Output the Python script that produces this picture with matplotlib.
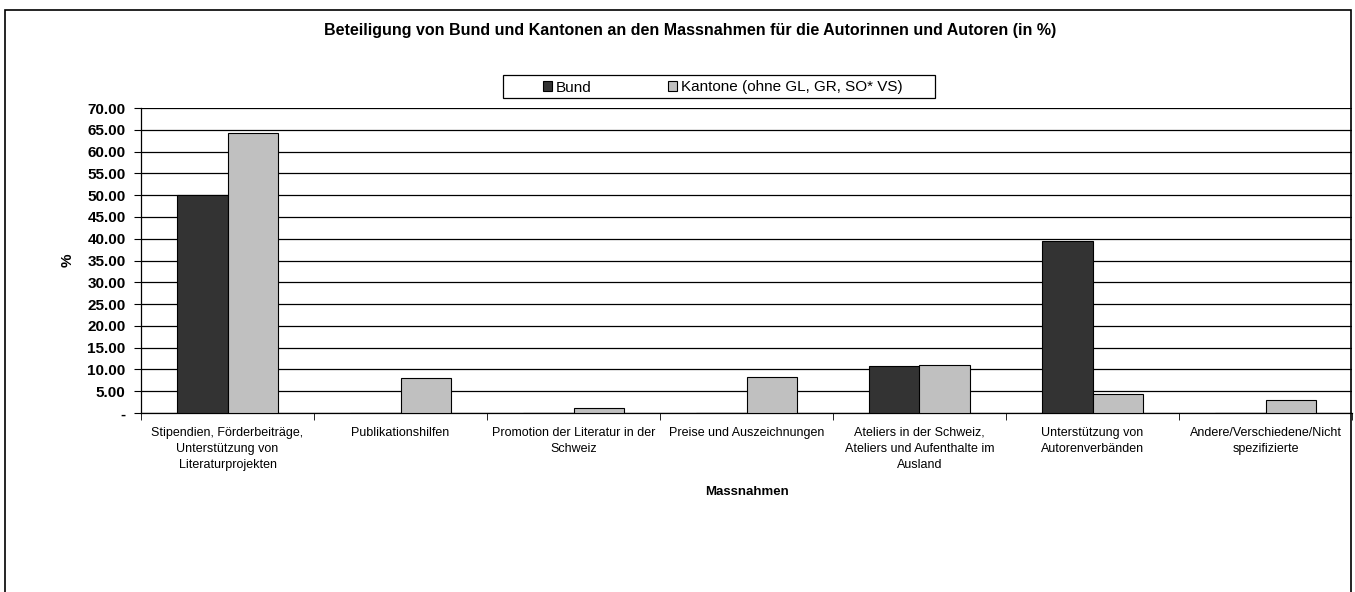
import numpy as np
import matplotlib.pyplot as plt
from matplotlib.patches import Rectangle

plt.rcParams['font.family'] = ['Liberation Sans', 'DejaVu Sans']

categories = ["Stipendien, Förderbeiträge,\nUnterstützung von\nLiteraturprojekten",
              "Publikationshilfen",
              "Promotion der Literatur in der\nSchweiz",
              "Preise und Auszeichnungen",
              "Ateliers in der Schweiz,\nAteliers und Aufenthalte im\nAusland",
              "Unterstützung von\nAutorenverbänden",
              "Andere/Verschiedene/Nicht\nspezifizierte"]
bund = [50.0, 0, 0, 0, 10.7, 39.5, 0]
kantone = [64.2, 8.0, 1.2, 8.3, 11.0, 4.3, 2.9]
yticks = np.arange(0, 75, 5)
ylabels = ['-'] + ['%.2f' % v for v in yticks[1:]]

W, H = 1355, 592
fig = plt.figure(figsize=(W / 100, H / 100), dpi=100)
ax = fig.add_axes([141 / W, 1 - 413 / H, (1352 - 141) / W, (413 - 108) / H])

# outer chart frame
fig.patches.append(Rectangle((5 / W, -0.05), (1351 - 5) / W, 1.05 - 10 / H,
                             transform=fig.transFigure, fill=False,
                             edgecolor='black', linewidth=1.2))

x = np.arange(len(categories))
bw = 0.29
b1 = ax.bar(x - bw / 2, bund, bw, color='#333333', edgecolor='black', linewidth=0.8,
            label='Bund', zorder=3)
b2 = ax.bar(x + bw / 2, kantone, bw, color='#c0c0c0', edgecolor='black', linewidth=0.8,
            label='Kantone (ohne GL, GR, SO* VS)', zorder=3)

ax.set_xlim(-0.5, len(categories) - 0.5)
ax.set_ylim(0, 70)
ax.set_yticks(yticks)
ax.set_yticklabels(ylabels, fontweight='bold', fontsize=11)
ax.yaxis.grid(True, color='black', linewidth=0.9, zorder=0)
ax.set_axisbelow(True)

ax.set_xticks(x)
ax.set_xticklabels(categories, fontsize=9, linespacing=1.45, va='top')
ax.tick_params(axis='x', length=0, pad=10)
ax.set_xticks(np.arange(len(categories) + 1) - 0.5, minor=True)
ax.tick_params(axis='x', which='minor', length=5, direction='out')
ax.tick_params(axis='y', length=5, direction='out', pad=6)

for s in ['top', 'right']:
    ax.spines[s].set_visible(False)
ax.spines['left'].set_linewidth(0.9)
ax.spines['bottom'].set_linewidth(0.9)

ax.set_xlabel('Massnahmen', fontweight='bold', fontsize=9.5)
ax.xaxis.set_label_coords(0.5, -(492 - 413) / (413 - 108))
ax.xaxis.label.set_va('center')
ax.set_ylabel('%', fontweight='bold', fontsize=11, labelpad=9)

fig.text(690 / W, 1 - 30 / H,
         'Beteiligung von Bund und Kantonen an den Massnahmen für die Autorinnen und Autoren (in %)',
         ha='center', va='center', fontweight='bold', fontsize=11.5)

# legend box
fig.patches.append(Rectangle((503 / W, 1 - 98 / H), (935 - 503) / W, 23 / H,
                             transform=fig.transFigure, fill=True, facecolor='white',
                             edgecolor='black', linewidth=0.9, zorder=1))
leg = fig.legend(handles=[b1, b2], loc='center left',
                 bbox_to_anchor=(528 / W, 1 - 87.5 / H),
                 ncol=2, frameon=False,
                 fontsize=11, handlelength=0.6, handleheight=0.6,
                 handletextpad=0.25, columnspacing=5.0, borderpad=0.45)
leg.set_zorder(2)

fig.savefig('out.png', dpi=100)
